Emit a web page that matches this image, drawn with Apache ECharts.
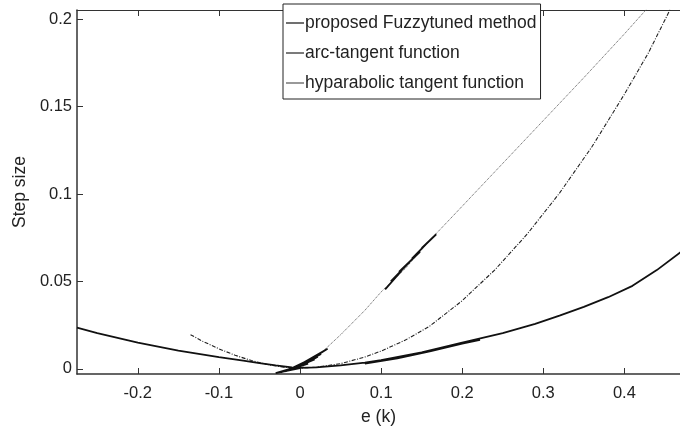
<!DOCTYPE html>
<html>
<head>
<meta charset="utf-8">
<script src="https://cdn.jsdelivr.net/npm/echarts@6/dist/echarts.min.js"></script>
<style>
  html, body { margin: 0; padding: 0; background: #fff; }
  #chart { width: 680px; height: 434px; }
</style>
</head>
<body>
<div id="chart"></div>
<script>
// Axis tick values
const xTicks = [-0.2, -0.1, 0, 0.1, 0.2, 0.3, 0.4];
const yTicks = [0, 0.05, 0.1, 0.15, 0.2];

const seriesNames = ['proposed Fuzzytuned method', 'arc-tangent function', 'hyparabolic tangent function'];

// Proposed fuzzy-tuned step size: [e(k), step size]
const fuzzyCurve = [
  [-0.275, 0.0236], [-0.25, 0.0205], [-0.2, 0.0150], [-0.15, 0.0105], [-0.1, 0.0068],
  [-0.07, 0.0047], [-0.05, 0.0033], [-0.03, 0.0020], [-0.01, 0.0009], [0, 0.0006],
  [0.02, 0.0009], [0.05, 0.0020], [0.08, 0.0036], [0.1, 0.0050], [0.15, 0.0095],
  [0.2, 0.0150], [0.25, 0.0205], [0.29, 0.0258], [0.32, 0.0305], [0.35, 0.0355],
  [0.38, 0.0410], [0.41, 0.0475], [0.44, 0.0565], [0.47, 0.0670],
  null,
  [0.08, 0.0031], [0.12, 0.0060], [0.16, 0.0100], [0.2, 0.0145], [0.222, 0.0166],
  null,
  [0.0, 0.0005], [-0.03, -0.0024], [0.01, 0.0030], [-0.024, -0.0020], [0.018, 0.0055],
  [-0.018, -0.0014], [0.026, 0.0085], [-0.012, -0.0008], [0.034, 0.0115], [-0.006, 0.0000],
  [0.022, 0.0070], [0.006, 0.0030],
  null,
  [0.105, 0.0455], [0.125, 0.0560], [0.112, 0.0500], [0.135, 0.0610], [0.122, 0.0555],
  [0.148, 0.0670], [0.138, 0.0630], [0.16, 0.0735], [0.15, 0.0690], [0.168, 0.0770]
];

// Arc-tangent based step size
const atanCurve = [
  [-0.135, 0.0196], [-0.12, 0.0158], [-0.1, 0.0115], [-0.08, 0.0078], [-0.06, 0.0048],
  [-0.04, 0.0025], [-0.02, 0.0010], [0, 0.0005], [0.02, 0.0010], [0.05, 0.0030],
  [0.08, 0.0068], [0.1, 0.0102], [0.13, 0.0165], [0.16, 0.0245], [0.2, 0.0390],
  [0.24, 0.0565], [0.28, 0.0770], [0.32, 0.1005], [0.36, 0.1270], [0.4, 0.1570],
  [0.43, 0.1810], [0.457, 0.2060]
];

// Hyperbolic-tangent based step size
const tanhCurve = [
  [-0.02, 0.0010], [0, 0.0004], [0.02, 0.0065], [0.05, 0.0195], [0.08, 0.0335],
  [0.1, 0.0440], [0.13, 0.0575], [0.16, 0.0735], [0.2, 0.0930], [0.25, 0.1175],
  [0.3, 0.1420], [0.35, 0.1665], [0.4, 0.1915], [0.428, 0.2060]
];

const FONT = '"Liberation Sans", Arial, sans-serif';
const chart = echarts.init(document.getElementById('chart'), null, { renderer: 'canvas' });

const xRange = { min: -0.275, max: 0.4686 };
const yRange = { min: -0.0029, max: 0.2052 };

chart.setOption({
  animation: false,
  backgroundColor: '#ffffff',
  grid: { left: 77, right: 0, top: 10, bottom: 60, containLabel: false },
  legend: {
    orient: 'vertical',
    left: 283,
    top: 4,
    padding: [10, 4, 7, 3],
    itemGap: 12,
    itemWidth: 18,
    itemHeight: 1.2,
    borderColor: '#222',
    borderWidth: 1,
    backgroundColor: '#fff',
    textStyle: { fontFamily: FONT, fontSize: 17.5, color: '#222', padding: [0, 0, 0, -4] },
    data: seriesNames.map(n => ({ name: n, icon: 'rect' }))
  },
  xAxis: [{
    type: 'value', position: 'bottom', ...xRange,
    name: 'e (k)', nameLocation: 'middle', nameGap: 34,
    nameTextStyle: { fontFamily: FONT, fontSize: 17.5, color: '#222' },
    axisLine: { show: true, onZero: false, lineStyle: { color: '#333', width: 1.5 } },
    axisTick: { show: true, inside: true, length: 6, customValues: xTicks, lineStyle: { color: '#333' } },
    axisLabel: { customValues: xTicks, fontFamily: FONT, fontSize: 16.5, color: '#222', margin: 11,
                 formatter: v => String(+v.toFixed(2)) },
    splitLine: { show: false }
  }, {
    type: 'value', position: 'top', ...xRange,
    axisLine: { show: true, onZero: false, lineStyle: { color: '#333', width: 1.2 } },
    axisTick: { show: true, inside: true, length: 6, customValues: xTicks, lineStyle: { color: '#333' } },
    axisLabel: { show: false },
    splitLine: { show: false }
  }],
  yAxis: {
    type: 'value', ...yRange,
    name: 'Step size', nameLocation: 'middle', nameGap: 45, nameRotate: 90,
    nameTextStyle: { fontFamily: FONT, fontSize: 17.5, color: '#222' },
    axisLine: { show: true, onZero: false, lineStyle: { color: '#333', width: 1.5 } },
    axisTick: { show: true, inside: true, length: 6, customValues: yTicks, lineStyle: { color: '#333' } },
    axisLabel: { customValues: yTicks, fontFamily: FONT, fontSize: 16.5, color: '#222', margin: 5,
                 formatter: v => String(+v.toFixed(2)) },
    splitLine: { show: false }
  },
  series: [
    {
      name: seriesNames[0], type: 'line', data: fuzzyCurve, showSymbol: false, connectNulls: false,
      color: '#111', lineStyle: { color: '#111', width: 1.8 }, z: 3
    },
    {
      name: seriesNames[1], type: 'line', data: atanCurve, showSymbol: false,
      color: '#222', lineStyle: { color: '#222', width: 1.1, type: [4, 1.5, 1, 1.5] }, z: 2
    },
    {
      name: seriesNames[2], type: 'line', data: tanhCurve, showSymbol: false,
      color: '#555', lineStyle: { color: '#555', width: 1, type: [1, 1] }, z: 2
    }
  ]
});
</script>
</body>
</html>
